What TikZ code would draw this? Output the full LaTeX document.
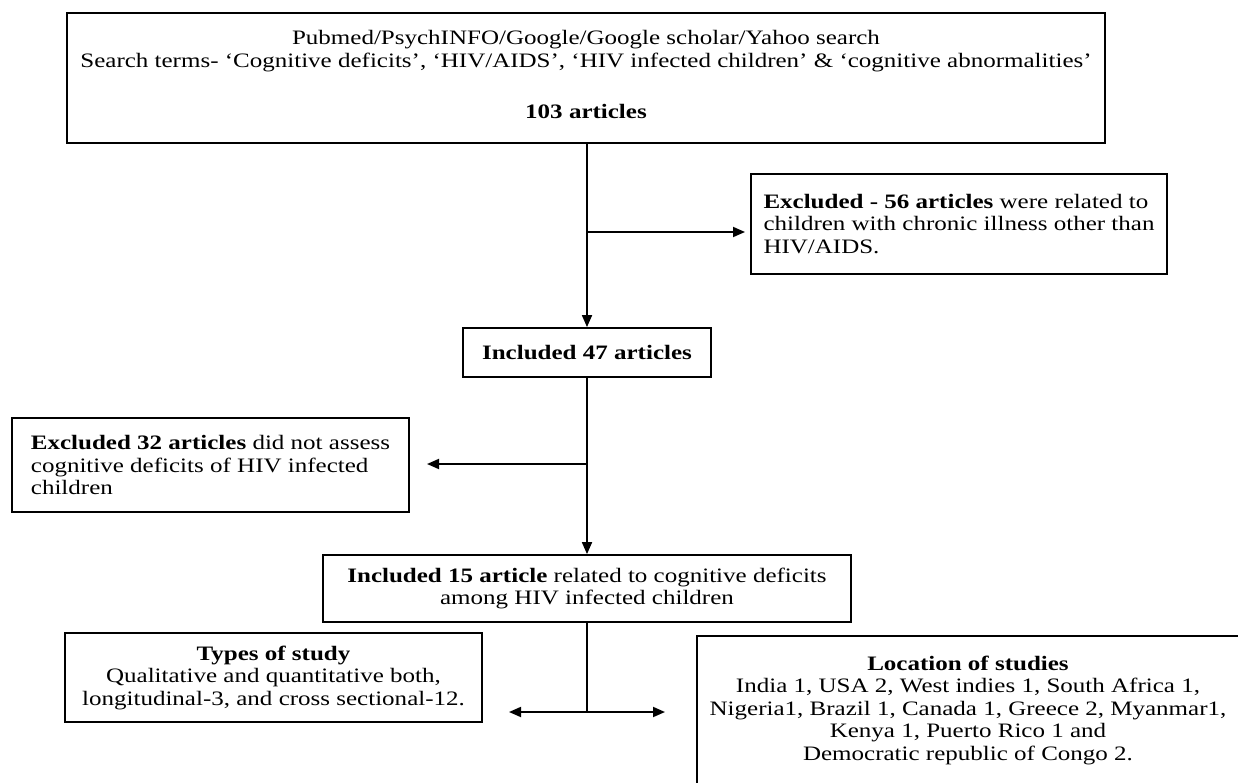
\documentclass[tikz,border=0pt]{standalone}
\usepackage{fontspec}
\setmainfont{Liberation Serif}
\newfontfamily\fmid{Liberation Serif}[FakeStretch=1.22]
\usetikzlibrary{arrows.meta}
\begin{document}
\begin{tikzpicture}[x=1pt,y=-1pt,
  txt/.style={font=\fontsize{20.5}{22.5}\fmid, inner sep=0pt},
  box/.style={draw, line width=1.8pt, inner sep=0pt, txt},
  arr/.style={line width=1.8pt, -{Triangle[length=12pt,width=10pt]}},
  ln/.style={line width=1.8pt}]
\useasboundingbox (0,0) rectangle (1238,783);
\clip (0,0) rectangle (1238,783);
\fill[white] (0,0) rectangle (1238,783);

\node[box, minimum width=1038pt, minimum height=130pt, align=center] (top) at (586,78)
  {Pubmed/PsychINFO/Google/Google scholar/Yahoo search\\
   Search terms- ‘Cognitive deficits’, ‘HIV/AIDS’, ‘HIV infected children’ \& ‘cognitive abnormalities’\\[28.5pt]
   \textbf{103 articles}\\[-15.5pt]};

\node[box, minimum width=416pt, minimum height=100pt, align=left] (exc56) at (959,224)
  {\textbf{Excluded - 56 articles} were related to\\
   children with chronic illness other than\\
   HIV/AIDS.};

\node[box, minimum width=248pt, minimum height=49pt] (inc47) at (587,352.5)
  {\textbf{Included 47 articles}};

\node[box, minimum width=397pt, minimum height=94pt, align=left] (exc32) at (210.5,465)
  {\textbf{Excluded 32 articles} did not assess\\
   cognitive deficits of HIV infected\\
   children};

\node[box, minimum width=528pt, minimum height=67pt, align=center] (inc15) at (587,588.5)
  {\textbf{Included 15 article} related to cognitive deficits\\
   among HIV infected children};

\node[box, minimum width=417pt, minimum height=89pt, align=center] (types) at (273.5,677.5)
  {\textbf{Types of study}\\
   Qualitative and quantitative both,\\
   longitudinal-3, and cross sectional-12.};

\node[box, minimum width=570pt, minimum height=180pt, anchor=north west] (loc) at (696,635) {};
\node[txt, align=center] (loctext) at (968,710)
  {\textbf{Location of studies}\\
   India 1, USA 2, West indies 1, South Africa 1,\\
   Nigeria1, Brazil 1, Canada 1, Greece 2, Myanmar1,\\
   Kenya 1, Puerto Rico 1 and\\
   Democratic republic of Congo 2.};

\coordinate (b1) at (587,232);
\coordinate (e56tip) at (745,232);
\coordinate (b2) at (587,464);
\coordinate (e32tip) at (427,464);
\coordinate (b3) at (587,712);
\coordinate (tl) at (509,712);
\coordinate (tr) at (665,712);

\draw[arr] (inc47.north |- top.south) -- (inc47.north);
\draw[arr] (b1) -- (e56tip);
\draw[arr] (inc47.south) -- (inc15.north);
\draw[arr] (b2) -- (e32tip);
\draw[ln] (inc15.south) -- (b3);
\draw[arr] (b3) -- (tl);
\draw[arr] (b3) -- (tr);
\end{tikzpicture}
\end{document}
